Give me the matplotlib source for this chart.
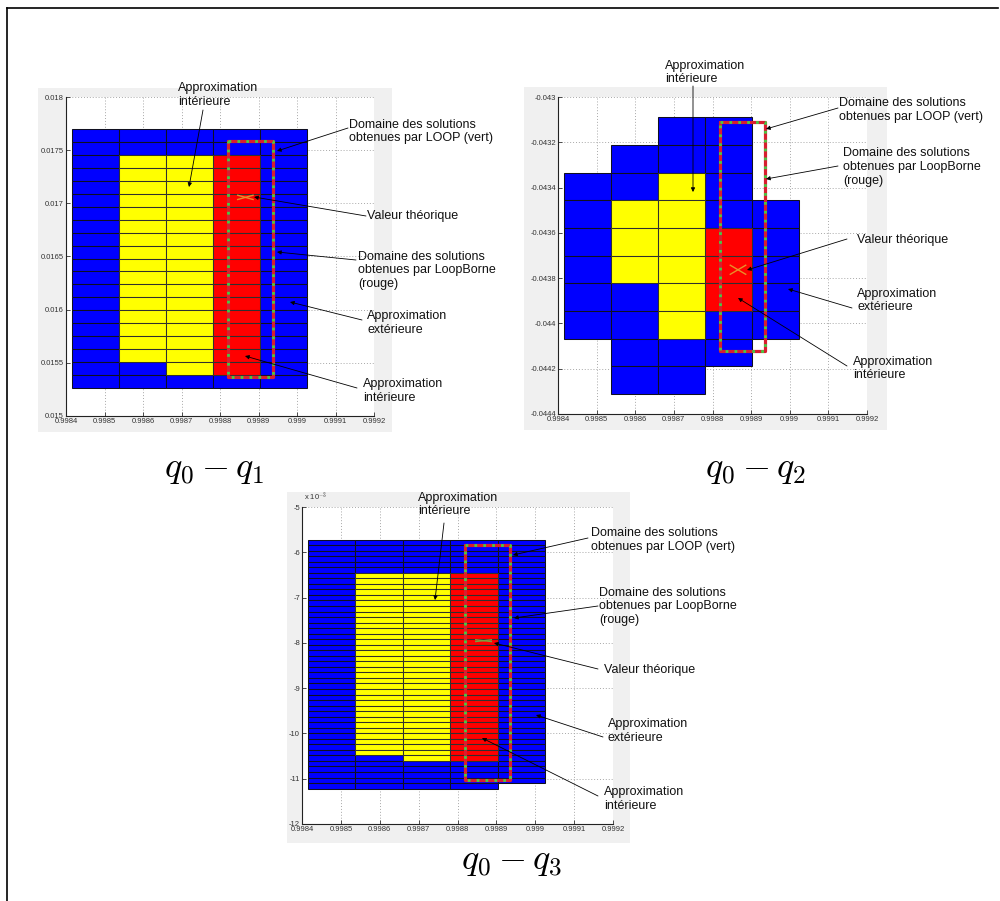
import matplotlib
matplotlib.use("Agg")
import matplotlib.pyplot as plt
from matplotlib.patches import Rectangle
from matplotlib.lines import Line2D

plt.rcParams['font.family'] = ['Liberation Sans', 'DejaVu Sans']
plt.rcParams['mathtext.fontset'] = 'cm'

W, H = 1000, 901

# ---------------- data ----------------
col_x = [0.998415, 0.998537, 0.998659, 0.998781, 0.998903, 0.999025]
x_ticks = [0.9984, 0.9985, 0.9986, 0.9987, 0.9988, 0.9989, 0.9990, 0.9991, 0.9992]
x_ticklabels = ['0.9984', '0.9985', '0.9986', '0.9987', '0.9988', '0.9989', '0.999', '0.9991', '0.9992']

# panel 1 : q0 - q1
p1_top, p1_dy = 0.017699, 0.0001218
p1_outer = [(0, 20), (0, 20), (0, 20), (0, 20), (0, 20)]
p1_yellow = [(1, 2, 18), (2, 2, 19)]
p1_red = [(3, 2, 19)]
p1_box = (0.99882, 0.998937, 0.015371, 0.017589)
p1_theo = (0.998866, 0.017056)
p1_yticks = [0.015, 0.0155, 0.016, 0.0165, 0.017, 0.0175, 0.018]
p1_yticklabels = ['0.015', '0.0155', '0.016', '0.0165', '0.017', '0.0175', '0.018']

# panel 2 : q0 - q2
p2_top, p2_dy = -0.04309, 0.0001222
p2_outer = [(2, 8), (1, 10), (0, 10), (0, 9), (3, 8)]
p2_yellow = [(1, 3, 6), (2, 2, 8)]
p2_red = [(3, 4, 7)]
p2_box = (0.99882, 0.998936, -0.04412, -0.04311)
p2_theo = (0.998866, -0.043763)
p2_yticks = [-0.0444, -0.0442, -0.044, -0.0438, -0.0436, -0.0434, -0.0432, -0.043]
p2_yticklabels = ['-0.0444', '-0.0442', '-0.044', '-0.0438', '-0.0436', '-0.0434', '-0.0432', '-0.043']

# panel 3 : q0 - q3 (y in units of 1e-3)
p3_top, p3_dy = -5.72, 0.12218
p3_outer = [(0, 45), (0, 45), (0, 45), (0, 45), (0, 44)]
p3_yellow = [(1, 6, 39), (2, 6, 40)]
p3_red = [(3, 6, 40)]
p3_box = (0.99882, 0.998936, -11.034, -5.832)
p3_theo = (0.998867, -7.951)
p3_yticks = [-12, -11, -10, -9, -8, -7, -6, -5]
p3_yticklabels = ['-12', '-11', '-10', '-9', '-8', '-7', '-6', '-5']

# ---------------- helpers ----------------
def fx(x):
    return x / W

def fy(y):
    return 1 - y / H

fig = plt.figure(figsize=(W / 100, H / 100), dpi=100)
fig.patch.set_facecolor('white')

# outer frame (top and left)
fig.add_artist(Line2D([fx(7), fx(998)], [fy(8), fy(8)], color='black', lw=1.2))
fig.add_artist(Line2D([fx(7), fx(7)], [fy(8), fy(901)], color='black', lw=1.2))

def gray_bg(x0, y0, x1, y1):
    fig.add_artist(Rectangle((fx(x0), fy(y1)), fx(x1 - x0), (y1 - y0) / H,
                             transform=fig.transFigure, facecolor='#f0f0f0',
                             edgecolor='none', zorder=0))

def make_axes(x0, y0, x1, y1):
    ax = fig.add_axes([fx(x0), fy(y1), fx(x1 - x0), (y1 - y0) / H])
    ax.set_facecolor('white')
    ax.set_zorder(1)
    return ax

def style_axes(ax, ylim, yticks, yticklabels):
    ax.set_xlim(0.9984, 0.9992)
    ax.set_ylim(*ylim)
    ax.set_xticks(x_ticks)
    ax.set_xticklabels(x_ticklabels)
    ax.set_yticks(yticks)
    ax.set_yticklabels(yticklabels)
    ax.tick_params(direction='in', length=3, width=0.6, labelsize=5.5,
                   labelcolor='#333333', colors='#333333', pad=1.5)
    for s in ('top', 'right'):
        ax.spines[s].set_visible(False)
    for s in ('left', 'bottom'):
        ax.spines[s].set_linewidth(0.8)
        ax.spines[s].set_color('#222222')
    ax.grid(True, linestyle=(0, (1, 2)), color='#a8a8a8', lw=0.7)
    ax.set_axisbelow(True)

def draw_cells(ax, top, dy, outer, yellow, red):
    for ci, (r0, r1) in enumerate(outer):
        for r in range(r0, r1):
            ax.add_patch(Rectangle((col_x[ci], top - (r + 1) * dy),
                                   col_x[ci + 1] - col_x[ci], dy,
                                   facecolor='#0000ff', edgecolor='#101020',
                                   lw=0.75, zorder=2, snap=True))
    for lst, col in ((yellow, '#ffff00'), (red, '#ff0000')):
        for ci, r0, r1 in lst:
            for r in range(r0, r1):
                ax.add_patch(Rectangle((col_x[ci], top - (r + 1) * dy),
                                       col_x[ci + 1] - col_x[ci], dy,
                                       facecolor=col, edgecolor='#303030',
                                       lw=0.75, zorder=3, snap=True))

def draw_box(ax, box):
    x0, x1, y0, y1 = box
    xs = [x0, x1, x1, x0, x0]
    ys = [y1, y1, y0, y0, y1]
    ax.plot(xs, ys, color='#d81e30', lw=2.3, solid_joinstyle='round',
            solid_capstyle='round', zorder=5)
    ax.plot(xs, ys, color='#44cc44', lw=2.0, linestyle=(0, (1.0, 2.2)), zorder=6)

def draw_theo(ax, pt, dx, dyy, color):
    x, y = pt
    ax.plot([x - dx, x + dx], [y - dyy, y + dyy], color=color, lw=1.0, zorder=7)
    ax.plot([x - dx, x + dx], [y + dyy, y - dyy], color=color, lw=1.0, zorder=7)

def label(x, y, s):
    fig.text(fx(x), fy(y - 6.5), s, ha='left', va='top', fontsize=9,
             linespacing=1.2, color='#111111', zorder=10)

def arrow(tail, head):
    fig.add_artist(plt.Annotation('', xy=(fx(head[0]), fy(head[1])),
                                  xycoords='figure fraction',
                                  xytext=(fx(tail[0]), fy(tail[1])),
                                  textcoords='figure fraction',
                                  arrowprops=dict(arrowstyle='-|>', lw=0.6,
                                                  color='black',
                                                  mutation_scale=6,
                                                  shrinkA=0, shrinkB=0),
                                  zorder=10))

# ---------------- panel 1 ----------------
gray_bg(38, 88, 392, 432)
ax1 = make_axes(66, 97, 374, 416)
style_axes(ax1, (0.015, 0.018), p1_yticks, p1_yticklabels)
draw_cells(ax1, p1_top, p1_dy, p1_outer, p1_yellow, p1_red)
draw_box(ax1, p1_box)
draw_theo(ax1, p1_theo, 0.00002, 0.00002, '#e8902a')

# ---------------- panel 2 ----------------
gray_bg(524, 87, 887, 430)
ax2 = make_axes(558, 97, 867, 414)
style_axes(ax2, (-0.0444, -0.043), p2_yticks, p2_yticklabels)
draw_cells(ax2, p2_top, p2_dy, p2_outer, p2_yellow, p2_red)
draw_box(ax2, p2_box)
draw_theo(ax2, p2_theo, 0.00002, 0.00002, '#e8902a')

# ---------------- panel 3 ----------------
gray_bg(287, 492, 630, 843)
ax3 = make_axes(302, 507, 613, 824)
style_axes(ax3, (-12, -5), p3_yticks, p3_yticklabels)
draw_cells(ax3, p3_top, p3_dy, p3_outer, p3_yellow, p3_red)
draw_box(ax3, p3_box)
draw_theo(ax3, p3_theo, 0.00002, 0.02, '#7aa040')
fig.text(fx(304), fy(497), r'x 10$^{-3}$', fontsize=5.5, color='#333333',
         ha='left', va='center', zorder=10)

# ---------------- annotations ----------------
# panel 1
label(178, 89, 'Approximation\nintérieure')
arrow((203, 110), (189, 187))
label(349, 125, 'Domaine des solutions\nobtenues par LOOP (vert)')
arrow((348, 128), (277, 151))
label(367, 217, 'Valeur théorique')
arrow((366, 216), (254, 197))
label(358, 257, 'Domaine des solutions\nobtenues par LoopBorne\n(rouge)')
arrow((356, 260), (277, 252))
label(367, 317, 'Approximation\nextérieure')
arrow((362, 320), (290, 302))
label(363, 385, 'Approximation\nintérieure')
arrow((357, 388), (245, 356))

# panel 2
label(665, 66, 'Approximation\nintérieure')
arrow((693, 86), (693, 192))
label(839, 104, 'Domaine des solutions\nobtenues par LOOP (vert)')
arrow((838, 108), (766, 129))
label(843, 154, 'Domaine des solutions\nobtenues par LoopBorne\n(rouge)')
arrow((838, 166), (766, 179))
label(857, 240, 'Valeur théorique')
arrow((847, 239), (747, 270))
label(857, 294, 'Approximation\nextérieure')
arrow((852, 308), (788, 289))
label(853, 362, 'Approximation\nintérieure')
arrow((847, 366), (738, 298))

# panel 3
label(418, 498, 'Approximation\nintérieure')
arrow((444, 523), (435, 600))
label(591, 534, 'Domaine des solutions\nobtenues par LOOP (vert)')
arrow((588, 538), (513, 555))
label(599, 593, 'Domaine des solutions\nobtenues par LoopBorne\n(rouge)')
arrow((598, 606), (514, 618))
label(604, 670, 'Valeur théorique')
arrow((598, 669), (494, 643))
label(608, 725, 'Approximation\nextérieure')
arrow((603, 737), (536, 715))
label(604, 793, 'Approximation\nintérieure')
arrow((598, 796), (482, 738))

# ---------------- titles ----------------
fig.text(fx(214), fy(469), r'$q_0 - q_1$', fontsize=26, ha='center', va='center')
fig.text(fx(756), fy(469), r'$q_0 - q_2$', fontsize=26, ha='center', va='center')
fig.text(fx(512), fy(861), r'$q_0 - q_3$', fontsize=26, ha='center', va='center')

fig.savefig('out.png', dpi=100, facecolor='white')
